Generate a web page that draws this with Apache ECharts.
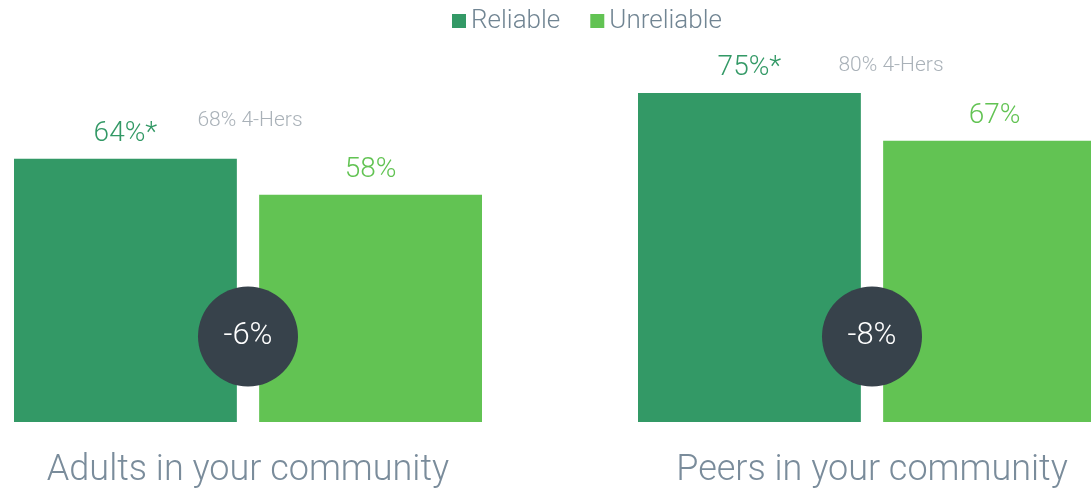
<!DOCTYPE html>
<html>
<head>
<meta charset="utf-8">
<script src="https://cdn.jsdelivr.net/npm/echarts@6/dist/echarts.min.js"></script>
<style>
  html, body { margin: 0; padding: 0; background: #fff; overflow: hidden; }
  /* the right-hand bar runs past the edge, so the canvas is wider than the window */
  #chart { width: 1248px; height: 489px; margin-left: -64px; }
</style>
</head>
<body>
<div id="chart"></div>
<script>
// data
const categories = ["Adults in your community", "Peers in your community"];
const reliable = [64, 75];
const unreliable = [58, 67];
const reliableMarks = ["*", "*"];
const fourHers = [68, 80];

const FONT = "Roboto, 'Liberation Sans', sans-serif";
const DARK = "#339966";
const LIGHT = "#62c353";

const diffs = reliable.map((r, i) => unreliable[i] - r);
// circles sit in the lower part of the bars
const circleLevel = 34.3;
// small nudges for the 4-Hers notes
const noteOffsets = [[2, -14], [19, 3]];

const chart = echarts.init(document.getElementById("chart"));
chart.setOption({
  animation: false,
  textStyle: { fontFamily: FONT },
  legend: {
    top: 3,
    left: 511,
    itemWidth: 14,
    itemHeight: 14,
    itemGap: 30,
    icon: "rect",
    textStyle: { fontSize: 26, color: "#718593", fontWeight: 300, fontFamily: FONT },
    data: ["Reliable", "Unreliable"],
  },
  grid: {
    left: 0,
    right: 0,
    top: 63,
    bottom: 66,
    containLabel: false,
  },
  xAxis: {
    type: "category",
    data: categories,
    axisLine: { show: false },
    axisTick: { show: false },
    axisLabel: {
      fontSize: 36,
      color: "#7a8c9b",
      fontWeight: 300,
      margin: 31,
      fontFamily: FONT,
    },
  },
  yAxis: {
    type: "value",
    min: 20,
    max: 80,
    show: false,
    splitLine: { show: false },
  },
  series: [
    {
      name: "Reliable",
      type: "bar",
      barGap: "10%",
      barCategoryGap: "25%",
      data: reliable,
      itemStyle: { color: DARK },
      label: {
        show: true,
        position: "top",
        distance: 11,
        fontSize: 28,
        fontWeight: 300,
        color: DARK,
        fontFamily: FONT,
        formatter: (p) => p.value + "%" + reliableMarks[p.dataIndex],
      },
    },
    {
      name: "Unreliable",
      type: "bar",
      data: unreliable,
      itemStyle: { color: LIGHT },
      label: {
        show: true,
        position: "top",
        distance: 11,
        fontSize: 28,
        fontWeight: 300,
        color: LIGHT,
        fontFamily: FONT,
        formatter: (p) => p.value + "%",
      },
    },
    {
      name: "4-Hers",
      type: "scatter",
      symbolSize: 0,
      silent: true,
      data: fourHers.map((v, i) => ({
        value: [i, v],
        label: { offset: noteOffsets[i] },
      })),
      label: {
        show: true,
        position: "inside",
        fontSize: 21,
        fontWeight: 300,
        color: "#939da6",
        fontFamily: FONT,
        formatter: (p) => fourHers[p.dataIndex] + "% 4-Hers",
      },
      z: 5,
    },
    {
      name: "Diff",
      type: "scatter",
      symbol: "circle",
      symbolSize: 100,
      silent: true,
      itemStyle: { color: "#37424b", opacity: 1 },
      data: diffs.map((d, i) => [i, circleLevel]),
      label: {
        show: true,
        position: "inside",
        fontSize: 31,
        fontWeight: 300,
        color: "#ffffff",
        fontFamily: FONT,
        formatter: (p) => diffs[p.dataIndex] + "%",
      },
      z: 10,
    },
  ],
});
</script>
</body>
</html>
